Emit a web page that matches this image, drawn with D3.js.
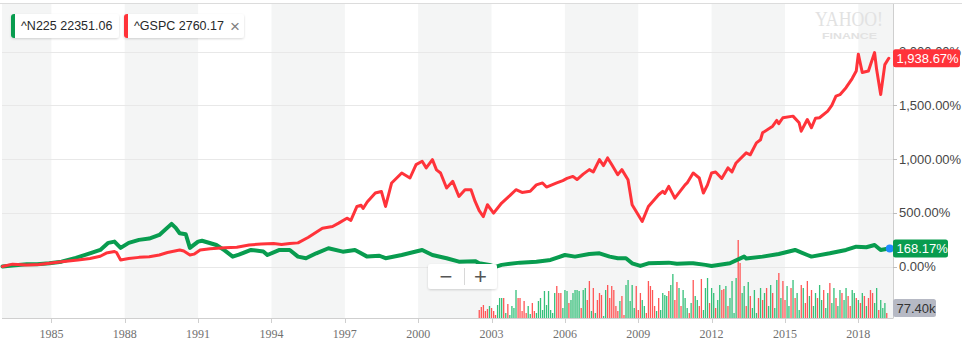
<!DOCTYPE html>
<html><head><meta charset="utf-8">
<script src="https://cdn.jsdelivr.net/npm/d3@7"></script>
<style>html,body{margin:0;padding:0;background:#fff;overflow:hidden}svg{display:block}</style>
</head><body><svg id="c" width="962" height="355"></svg>
<script>
// ---------------- data ----------------
const gspcDates = ["1983-01","1983-06","1984-01","1984-07","1984-12","1985-06","1986-02","1986-08","1987-01","1987-04","1987-08","1987-09","1987-11","1988-03","1988-08","1989-01","1989-06","1989-10","1990-04","1990-06","1990-09","1990-11","1991-02","1991-07","1992-02","1992-08","1993-02","1993-08","1994-02","1994-06","1994-10","1995-02","1995-07","1996-02","1996-07","1996-10","1997-02","1997-04","1997-07","1997-09","1997-10","1997-12","1998-04","1998-07","1998-09","1998-12","1999-05","1999-09","1999-12","2000-03","2000-05","2000-08","2000-10","2000-12","2001-03","2001-06","2001-09","2001-12","2002-03","2002-05","2002-07","2002-09","2002-11","2003-02","2003-06","2003-10","2004-01","2004-04","2004-08","2004-11","2005-02","2005-04","2005-09","2005-12","2006-02","2006-05","2006-07","2006-10","2007-01","2007-03","2007-06","2007-08","2007-10","2007-12","2008-03","2008-05","2008-08","2008-10","2009-03","2009-06","2009-11","2010-01","2010-02","2010-04","2010-07","2010-12","2011-01","2011-04","2011-07","2011-09","2011-11","2012-01","2012-03","2012-06","2012-09","2012-11","2013-01","2013-06","2013-08","2013-11","2014-01","2014-02","2014-07","2014-09","2014-10","2014-12","2015-05","2015-08","2015-09","2015-12","2016-02","2016-04","2016-06","2016-10","2016-12","2017-02","2017-04","2017-07","2017-10","2017-12","2018-01","2018-03","2018-06","2018-09","2018-10","2018-12","2019-02","2019-04"];
const gspcValues = [0,22,15,18,30,45,60,75,95,125,140,130,60,75,85,90,107,130,154,145,107,115,154,165,175,180,200,210,215,205,215,220,270,357,372,404,450,430,559,570,540,600,684,699,559,778,871,824,949,980,918,995,900,871,731,793,652,715,715,606,520,465,575,497,591,660,715,690,700,760,778,740,778,800,820,839,810,860,902,880,995,940,1011,949,855,902,808,575,419,559,668,700,680,746,637,760,778,871,824,684,760,871,880,820,918,880,964,1058,1040,1151,1180,1245,1307,1360,1330,1385,1400,1338,1260,1369,1292,1380,1385,1447,1500,1587,1600,1665,1750,1820,1977,1806,1820,1992,1836,1602,1880,1938.67];

const n225Dates = ["1983-01","1983-06","1984-01","1984-06","1984-12","1985-06","1986-01","1986-06","1987-01","1987-05","1987-08","1987-11","1988-03","1988-08","1989-01","1989-06","1989-12","1990-02","1990-04","1990-07","1990-09","1991-01","1991-03","1991-10","1992-02","1992-06","1992-09","1993-03","1993-09","1993-11","1994-05","1994-10","1995-02","1995-06","1995-11","1996-05","1996-12","1997-06","1997-12","1998-06","1998-09","1999-05","2000-03","2000-08","2001-03","2001-09","2002-05","2002-07","2002-12","2003-03","2003-06","2004-03","2004-11","2005-06","2006-01","2006-06","2007-01","2007-06","2007-11","2008-03","2008-07","2008-10","2009-02","2009-06","2010-04","2010-08","2011-02","2011-04","2011-10","2012-01","2012-10","2013-05","2013-06","2014-02","2014-10","2015-06","2015-12","2016-02","2016-11","2017-07","2017-12","2018-05","2018-09","2018-12","2019-04"];
const n225Values = [0,10,20,22,30,45,80,110,154,220,232,173,220,248,260,294,397,360,310,300,173,232,240,200,150,92,110,154,140,107,154,154,92,77,123,170,138,154,92,100,77,107,154,107,77,45,50,30,14,-3,15,36,45,61,107,92,117,123,92,77,77,30,5,30,36,25,30,30,15,5,30,92,75,92,117,154,107,92,123,154,185,179,200,154,168.17];

const volumeStart = "2002-07";
const volumeValues = [8,11, 13,7,9,12,
 10,7,3,13,20,20,20,5,14,3,12,10,
 28,20,20,7,17,5,12,4,15,7,5,17,
 20,8,27,13,27,8,5,25,32,25,25,10,
 28,27,15,18,25,28,28,27,10,28,30,18,
 37,7,30,5,18,25,23,2,28,33,20,32,
 28,12,7,17,22,3,33,38,17,33,10,32,
 8,25,18,12,5,37,32,28,12,7,20,8,
 25,23,22,27,33,44,18,36,30,12,28,20,
 10,5,15,38,22,18,12,39,8,30,40,15,
 30,25,10,18,33,28,29,32,12,20,37,5,
 40,78,55,25,32,12,36,22,10,28,5,20,
 30,18,25,30,12,33,25,10,38,45,20,37,
 18,32,12,30,38,20,25,8,33,30,15,37,
 22,28,12,25,20,33,18,28,10,25,35,15,
 30,20,12,28,25,18,30,22,12,28,25,20,
 18,15,25,22,12,20,28,25,15,30,8,18,
 10,15,5];
const volumeDirs = ("rr"+"rrrg"+
 "rrrgggrgrggg"+
 "grrrrrggrrgg"+
 "ggggggggrrrg"+
 "ggrgggggrggr"+
 "rgrgrrrggrrr"+
 "rrrgrrgggggr"+
 "rrggrrrrrgrg"+
 "gggrggrrgrgg"+
 "grgrggrrgggr"+
 "ggrggrrgrggg"+
 "grrggrgrgggr"+
 "grgrggrggrgr"+
 "rggrgrggrgrr"+
 "grggrggrggrg"+
 "grggrggrrggr"+
 "grgrgrrrggrg"+
 "ggr").split("");

const xTickYears = [1985,1988,1991,1994,1997,2000,2003,2006,2009,2012,2015,2018];
const yTickValues = [0,500,1000,1500,2000];
const legendNames = ["^N225 22351.06","^GSPC 2760.17"];
const legendColors = ["#089c4f","#ff333a"];
const lastLabels = {gspc:"1,938.67%", n225:"168.17%", volume:"77.40k"};

// ---------------- chart ----------------
const svg = d3.select("#c");
const parse = d3.timeParse("%Y-%m");
const W = 962;
const plotL = 2, plotR = 893, plotT = 4, plotB = 318;

const x = d3.scaleTime().domain([new Date(1982,11,25), new Date(2019,5,3)]).range([plotL, plotR]);
const y = d3.scaleLinear().domain([0,2000]).range([266.5, 51.7]);
const yv = d3.scaleLinear().domain([0,100]).range([plotB, plotB-100]);

const defs = svg.append("defs");
const f = defs.append("filter").attr("id","sh").attr("x","-20%").attr("y","-30%").attr("width","140%").attr("height","170%");
f.append("feDropShadow").attr("dx",0).attr("dy",1).attr("stdDeviation",1.2).attr("flood-color","#000").attr("flood-opacity",0.16);

// top border
svg.append("line").attr("x1",0).attr("x2",W).attr("y1",3.5).attr("y2",3.5).attr("stroke","#dcdcdc");

// shaded bands
const dStart = x.domain()[0], dEnd = x.domain()[1];
const yr = v => new Date(v,0,1);
const bands = [[dStart, yr(xTickYears[0])]];
for (let k=1; k+1<xTickYears.length; k+=2) bands.push([yr(xTickYears[k]), yr(xTickYears[k+1])]);
bands.push([yr(xTickYears[xTickYears.length-1]), dEnd]);
svg.append("g").selectAll("rect").data(bands).join("rect")
  .attr("x", d=>x(d[0])).attr("width", d=>x(d[1])-x(d[0]))
  .attr("y", plotT).attr("height", plotB-plotT).attr("fill","#f4f5f5");

// gridlines
svg.append("g").selectAll("line").data(yTickValues).join("line")
  .attr("x1",plotL).attr("x2",plotR).attr("y1",d=>Math.round(y(d))+0.5).attr("y2",d=>Math.round(y(d))+0.5)
  .attr("stroke","#e8e8e8");

// volume bars
const v0 = parse(volumeStart);
const vol = volumeValues.map((v,i)=>({date:d3.timeMonth.offset(v0,i), v, dir:volumeDirs[i]}));
svg.append("g").selectAll("rect").data(vol).join("rect")
  .attr("x", d=>x(d.date)-0.6).attr("width",1.3)
  .attr("y", d=>yv(d.v)).attr("height", d=>plotB-yv(d.v))
  .attr("fill", d=>d.dir==="g" ? "#35c07a" : "#ff5656");

// lines
const n225 = n225Dates.map((d,i)=>({date:parse(d), v:n225Values[i]}));
const gspc = gspcDates.map((d,i)=>({date:parse(d), v:gspcValues[i]}));
const line = d3.line().x(d=>x(d.date)).y(d=>y(d.v));
svg.append("path").datum(n225).attr("d",line).attr("fill","none").attr("stroke",legendColors[0])
  .attr("stroke-width",4).attr("stroke-linejoin","round").attr("stroke-linecap","round");
svg.append("path").datum(gspc).attr("d",line).attr("fill","none").attr("stroke",legendColors[1])
  .attr("stroke-width",3).attr("stroke-linejoin","round").attr("stroke-linecap","round");

// watermark
svg.append("text").attr("x",815).attr("y",25.5).attr("textLength",68).attr("lengthAdjust","spacingAndGlyphs")
  .attr("font-family","Liberation Serif, serif").attr("font-size",20).attr("fill","#e2e2e2").text("YAHOO!");
svg.append("text").attr("x",822).attr("y",39).attr("textLength",55).attr("lengthAdjust","spacingAndGlyphs")
  .attr("font-family","Liberation Sans, Arial, sans-serif").attr("font-weight","bold").attr("font-size",9.5).attr("fill","#e2e2e2").text("FINANCE");

// axes lines
svg.append("line").attr("x1",plotR+0.5).attr("x2",plotR+0.5).attr("y1",plotT).attr("y2",plotB+0.5).attr("stroke","#cfcfcf");
svg.append("line").attr("x1",plotL).attr("x2",plotR).attr("y1",plotB+0.5).attr("y2",plotB+0.5).attr("stroke","#cfcfcf");

// x axis
const xg = svg.append("g");
xg.selectAll("line").data(xTickYears).join("line")
  .attr("x1",d=>Math.round(x(yr(d)))+0.5).attr("x2",d=>Math.round(x(yr(d)))+0.5)
  .attr("y1",plotB).attr("y2",plotB+5).attr("stroke","#cfcfcf");
xg.selectAll("text").data(xTickYears).join("text")
  .attr("x",d=>x(yr(d))).attr("y",337.5).attr("text-anchor","middle")
  .attr("font-family","Liberation Serif, Times New Roman, serif").attr("font-size",12).attr("fill","#707070")
  .text(d=>d);

// y axis
const fmt = d3.format(",.2f");
const yg = svg.append("g");
yg.selectAll("line").data(yTickValues).join("line")
  .attr("x1",plotR).attr("x2",plotR+4).attr("y1",d=>Math.round(y(d))+0.5).attr("y2",d=>Math.round(y(d))+0.5).attr("stroke","#bdbdbd");
yg.selectAll("text").data(yTickValues).join("text")
  .attr("x",899).attr("y",d=>y(d)).attr("dy","0.35em")
  .attr("font-family","Liberation Sans, Arial, sans-serif").attr("font-size",13).attr("fill","#464646")
  .text(d=>fmt(d)+"%");

// last point dot
const lastN = n225[n225.length-1];
svg.append("circle").attr("cx",x(lastN.date)+1).attr("cy",y(lastN.v)).attr("r",4).attr("fill","#1f8bff");

// badges
function badge(cy, label, bg, fg, w){
  const g = svg.append("g");
  g.append("rect").attr("x",plotR).attr("y",cy-9).attr("width",w).attr("height",18).attr("rx",2.5).attr("fill",bg);
  g.append("text").attr("x",plotR+3.5).attr("y",cy).attr("dy","0.36em")
    .attr("font-family","Liberation Sans, Arial, sans-serif").attr("font-size",13).attr("fill",fg).text(label);
}
badge(y(gspcValues[gspcValues.length-1]), lastLabels.gspc, "#ff333a", "#fff", 67);
badge(y(lastN.v), lastLabels.n225, "#089c4f", "#fff", 55);
badge(308, lastLabels.volume, "#b6b9c4", "#333", 43);

// legend chips
const chips = [{x:11,w:108},{x:124,w:120}];
chips.forEach((c,i)=>{
  const g = svg.append("g");
  g.append("rect").attr("x",c.x).attr("y",14).attr("width",c.w).attr("height",24).attr("rx",3).attr("fill","#fff").attr("filter","url(#sh)");
  g.append("path").attr("d",`M${c.x+4},14 h0 v24 h-1 a3,3 0 0 1 -3,-3 v-18 a3,3 0 0 1 3,-3 z`).attr("fill",legendColors[i]);
  g.append("text").attr("x",c.x+10).attr("y",26).attr("dy","0.35em")
    .attr("font-family","Liberation Sans, Arial, sans-serif").attr("font-size",12.5).attr("fill","#26282a").text(legendNames[i]);
});
svg.append("text").attr("x",235).attr("y",26).attr("dy","0.35em").attr("text-anchor","middle")
  .attr("font-family","Liberation Sans, Arial, sans-serif").attr("font-size",17).attr("fill","#808080").text("×");

// zoom control
const zc = svg.append("g");
zc.append("rect").attr("x",428).attr("y",264).attr("width",69).attr("height",25).attr("rx",3).attr("fill","#fff").attr("filter","url(#sh)");
zc.append("line").attr("x1",464.5).attr("x2",464.5).attr("y1",268).attr("y2",285).attr("stroke","#d8d8d8");
zc.append("text").attr("x",446).attr("y",276.5).attr("dy","0.35em").attr("text-anchor","middle")
  .attr("font-family","Liberation Sans, Arial, sans-serif").attr("font-size",22).attr("fill","#555").text("−");
zc.append("text").attr("x",480.5).attr("y",276.5).attr("dy","0.35em").attr("text-anchor","middle")
  .attr("font-family","Liberation Sans, Arial, sans-serif").attr("font-size",22).attr("fill","#555").text("+");
</script></body></html>
